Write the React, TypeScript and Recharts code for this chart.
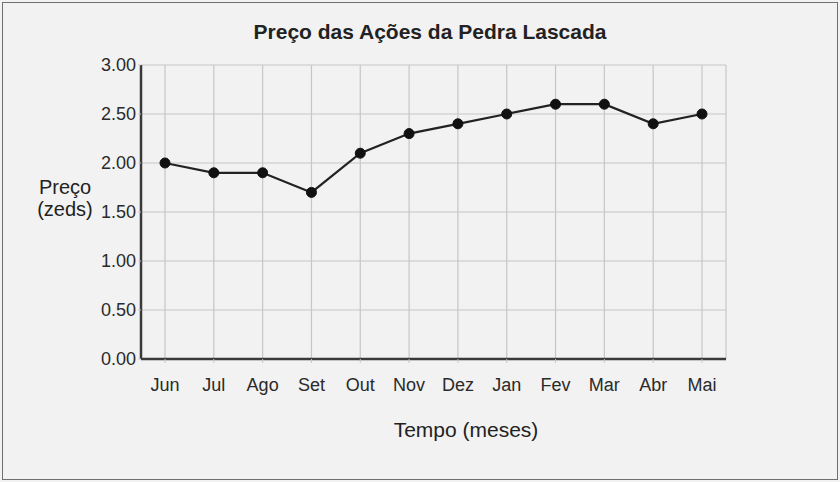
import React from "react";
import { LineChart, Line, XAxis, YAxis, CartesianGrid } from "recharts";

const months = ["Jun", "Jul", "Ago", "Set", "Out", "Nov", "Dez", "Jan", "Fev", "Mar", "Abr", "Mai"];
const prices = [2.0, 1.9, 1.9, 1.7, 2.1, 2.3, 2.4, 2.5, 2.6, 2.6, 2.4, 2.5];
const yTicks = [0, 0.5, 1, 1.5, 2, 2.5, 3];

const FONT = "'Liberation Sans', Arial, Helvetica, sans-serif";
const W = 840;
const H = 482;

const data = months.map((m, i) => ({ month: m, price: prices[i] }));

export default function App() {
  return (
    <div
      style={{
        position: "absolute",
        left: 0,
        top: 0,
        width: W,
        height: H,
        background: "#f2f2f2",
        fontFamily: FONT,
        color: "#222",
      }}
    >
      {/* outer frame */}
      <div
        style={{
          position: "absolute",
          left: 2,
          top: 2,
          width: W - 6,
          height: H - 6,
          border: "1.5px solid #6f6f6f",
        }}
      />
      <div
        style={{
          position: "absolute",
          left: 0,
          top: 20,
          width: 860,
          textAlign: "center",
          fontWeight: "bold",
          fontSize: 21,
        }}
      >
        Preço das Ações da Pedra Lascada
      </div>
      <div
        style={{
          position: "absolute",
          left: 25,
          top: 176,
          width: 80,
          textAlign: "center",
          fontSize: 20,
          lineHeight: "22px",
        }}
      >
        Preço
        <br />
        (zeds)
      </div>
      <div
        style={{
          position: "absolute",
          left: 366,
          top: 418,
          width: 200,
          textAlign: "center",
          fontSize: 21,
        }}
      >
        Tempo (meses)
      </div>
      <div style={{ position: "absolute", left: 0, top: 0 }}>
        <LineChart
          width={W}
          height={H}
          data={data}
          margin={{ top: 65, right: 114, bottom: 93, left: 0 }}
        >
          <CartesianGrid stroke="#c6c6c6" strokeWidth={1.2} />
          <XAxis
            dataKey="month"
            height={30}
            padding={{ left: 24, right: 24 }}
            axisLine={{ stroke: "#3a3a3a", strokeWidth: 2.5 }}
            tickLine={{ stroke: "#c6c6c6" }}
            tickSize={4}
            tickMargin={15}
            tick={{ fill: "#2a2a2a", fontSize: 18, fontFamily: FONT }}
          />
          <YAxis
            width={141}
            domain={[0, 3]}
            ticks={yTicks}
            tickFormatter={(v: number) => v.toFixed(2)}
            axisLine={{ stroke: "#3a3a3a", strokeWidth: 2.5 }}
            tickLine={{ stroke: "#c6c6c6" }}
            tickSize={3}
            tickMargin={2}
            tick={{ fill: "#2a2a2a", fontSize: 18, fontFamily: FONT }}
          />
          <Line
            type="linear"
            dataKey="price"
            stroke="#222"
            strokeWidth={2.2}
            dot={{ r: 5, fill: "#111", stroke: "#111", strokeWidth: 1 }}
            isAnimationActive={false}
          />
        </LineChart>
      </div>
    </div>
  );
}
